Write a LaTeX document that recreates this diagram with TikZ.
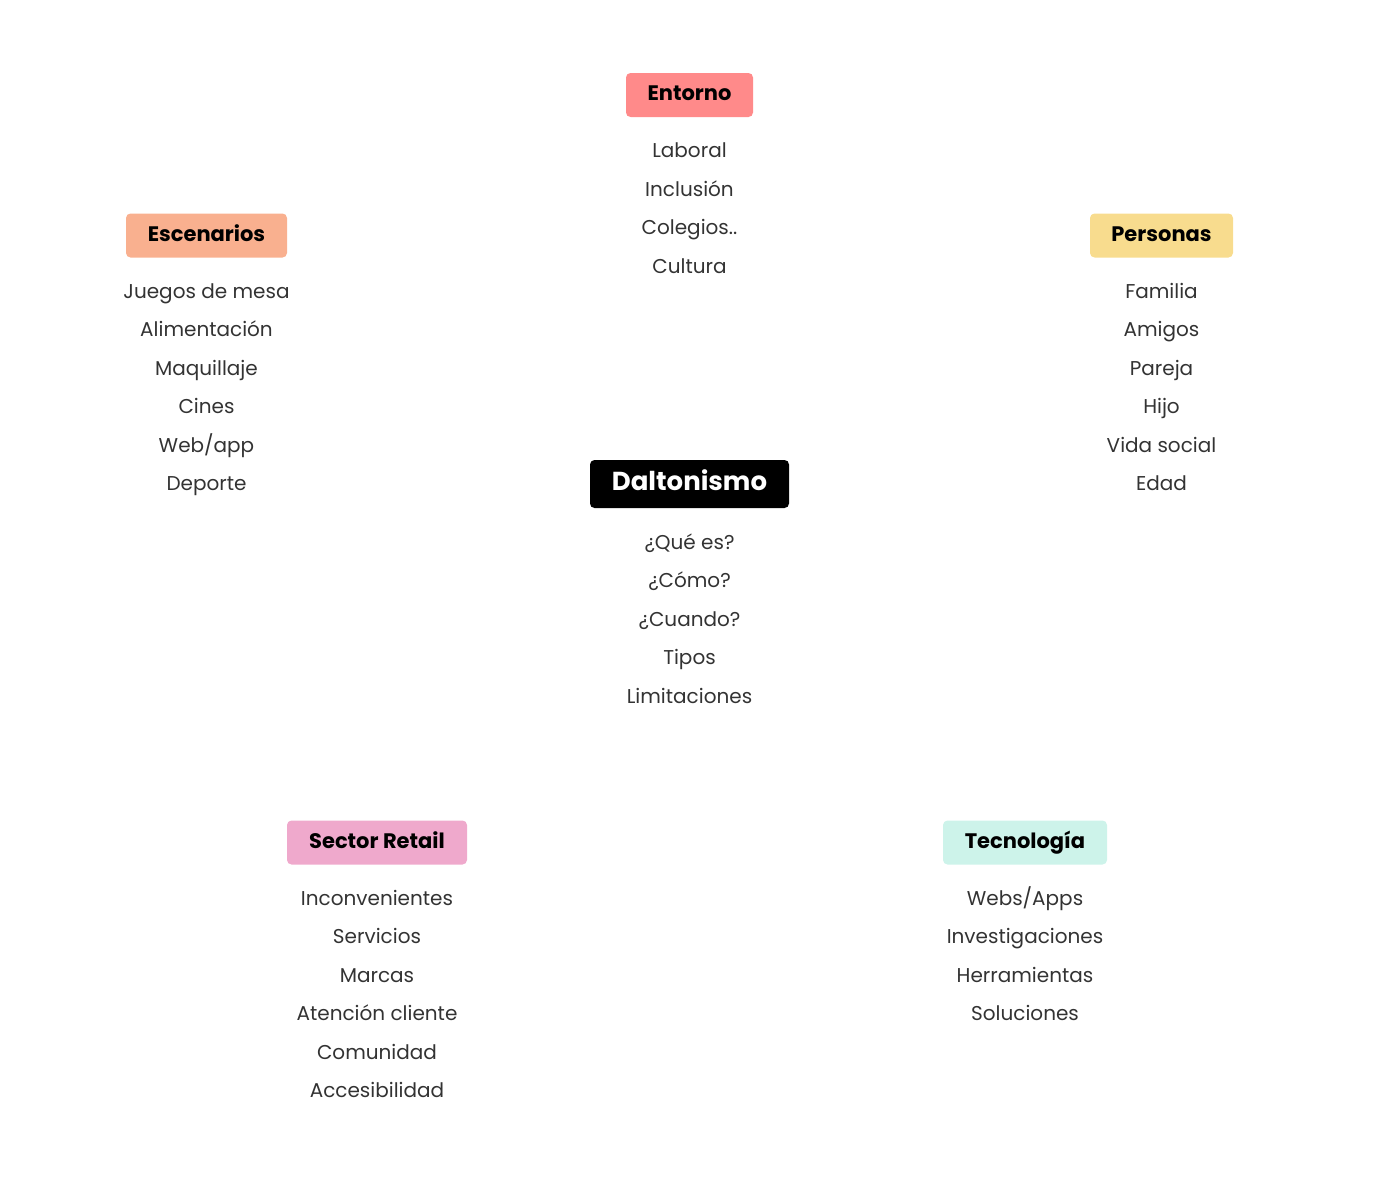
\documentclass[tikz,border=0pt]{standalone}
\usepackage{fontspec}
\setmainfont{Poppins}
\usetikzlibrary{positioning}

\definecolor{entornoc}{HTML}{FF8A8A}
\definecolor{escenc}{HTML}{F9B08F}
\definecolor{personc}{HTML}{F8DC8E}
\definecolor{retailc}{HTML}{EFA9CC}
\definecolor{tecnoc}{HTML}{CDF3EA}
\definecolor{itemc}{HTML}{333333}

\tikzset{
    head/.style={rounded corners=4.5pt, minimum height=44pt, inner xsep=4pt,
        text height=14pt, text depth=2.6pt,
        font=\fontsize{21}{24}\selectfont\bfseries, text=black},
    item/.style={anchor=base, font=\fontsize{20}{24}\selectfont, text=itemc, inner sep=0pt}
}

\begin{document}
\begin{tikzpicture}[x=1pt,y=-1pt]
    \useasboundingbox (0,0) rectangle (1400,1183);

    \node[head, fill=entornoc, minimum width=127pt] (entorno) at (689.5, 95) {Entorno};
    \node[item] (ent1) at (689.5, 157.5) {Laboral};
    \node[item] (ent2) at (689.5, 196) {Inclusión};
    \node[item] (ent3) at (689.5, 234.5) {Colegios..};
    \node[item] (ent4) at (689.5, 273) {Cultura};

    \node[head, fill=escenc, minimum width=161pt] (escen) at (206.5, 235.5) {Escenarios};
    \node[item] (esc1) at (206.5, 298) {Juegos de mesa};
    \node[item] (esc2) at (206.5, 336.5) {Alimentación};
    \node[item] (esc3) at (206.5, 375) {Maquillaje};
    \node[item] (esc4) at (206.5, 413.5) {Cines};
    \node[item] (esc5) at (206.5, 452) {Web/app};
    \node[item] (esc6) at (206.5, 490.5) {Deporte};

    \node[head, fill=personc, minimum width=143pt] (person) at (1161.5, 235.5) {Personas};
    \node[item] (per1) at (1161.5, 298) {Familia};
    \node[item] (per2) at (1161.5, 336.5) {Amigos};
    \node[item] (per3) at (1161.5, 375) {Pareja};
    \node[item] (per4) at (1161.5, 413.5) {Hijo};
    \node[item] (per5) at (1161.5, 452) {Vida social};
    \node[item] (per6) at (1161.5, 490.5) {Edad};

    \node[head, fill=black, text=white, minimum width=199pt, minimum height=48pt,
        text height=18pt, text depth=4.6pt,
        font=\fontsize{26}{30}\selectfont\bfseries] (dalton) at (689.5, 484) {Daltonismo};
    \node[item] (dal1) at (689.5, 549) {¿Qué es?};
    \node[item] (dal2) at (689.5, 587.5) {¿Cómo?};
    \node[item] (dal3) at (689.5, 626) {¿Cuando?};
    \node[item] (dal4) at (689.5, 664.5) {Tipos};
    \node[item] (dal5) at (689.5, 703) {Limitaciones};

    \node[head, fill=retailc, minimum width=180pt] (retail) at (377, 842.5) {Sector Retail};
    \node[item] (ret1) at (377, 905) {Inconvenientes};
    \node[item] (ret2) at (377, 943.5) {Servicios};
    \node[item] (ret3) at (377, 982) {Marcas};
    \node[item] (ret4) at (377, 1020.5) {Atención cliente};
    \node[item] (ret5) at (377, 1059) {Comunidad};
    \node[item] (ret6) at (377, 1097.5) {Accesibilidad};

    \node[head, fill=tecnoc, minimum width=164pt] (tecno) at (1025, 842.5) {Tecnología};
    \node[item] (tec1) at (1025, 905) {Webs/Apps};
    \node[item] (tec2) at (1025, 943.5) {Investigaciones};
    \node[item] (tec3) at (1025, 982) {Herramientas};
    \node[item] (tec4) at (1025, 1020.5) {Soluciones};

\end{tikzpicture}
\end{document}
